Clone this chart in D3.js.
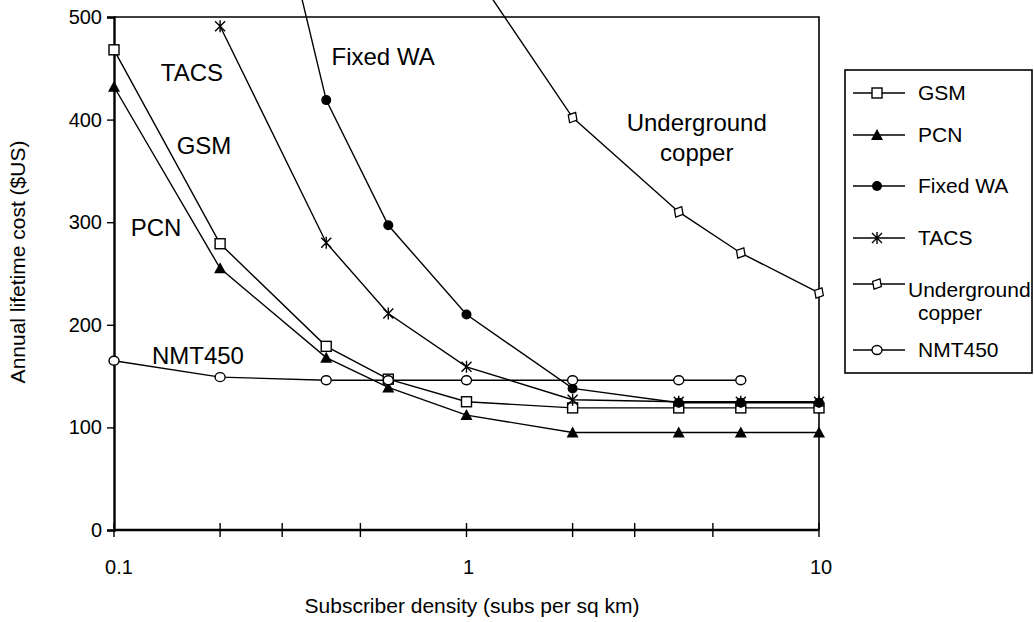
<!DOCTYPE html>
<html>
<head>
<meta charset="utf-8">
<script src="https://cdn.jsdelivr.net/npm/d3@7"></script>
<style>
  body { margin: 0; background: #fff; }
  text { font-family: "Liberation Sans", Arial, sans-serif; fill: #000; }
</style>
</head>
<body>
<div class="chart"></div>
<script>
// subscriber density (subs per sq km)
var densities = [0.1, 0.2, 0.4, 0.6, 1, 2, 4, 6, 10];
// annual lifetime cost ($US), null = not plotted
var gsm    = [468, 279, 179, 147, 125, 119, 119, 119, 119];
var pcn    = [432, 255, 168, 139, 112, 95, 95, 95, 95];
var fixedWA = [null, 850, 419, 297, 210, 138, 124, 124, 124];
var tacs   = [null, 491, 280, 211, 159, 127, 125, 125, 125];
var copper = [null, null, null, null, 555, 402, 310, 270, 231];
var nmt450 = [165, 149, 146, 146, 146, 146, 146, 146, null];

var seriesNames = ['GSM', 'PCN', 'Fixed WA', 'TACS', 'Underground copper', 'NMT450'];
var xTicks = [0.1, 0.2, 0.3, 0.5, 1, 2, 3, 5, 10];
var xLabels = [0.1, 1, 10];
var yTicks = [0, 100, 200, 300, 400, 500];

var series = [
  { name: 'GSM', values: gsm, marker: 'square' },
  { name: 'PCN', values: pcn, marker: 'triangle' },
  { name: 'Fixed WA', values: fixedWA, marker: 'dot' },
  { name: 'TACS', values: tacs, marker: 'star' },
  { name: 'Underground copper', values: copper, marker: 'diamond' },
  { name: 'NMT450', values: nmt450, marker: 'circle' }
];

var width = 1034, height = 622;
var svg = d3.select('.chart')
    .append('svg')
    .attr('width', width)
    .attr('height', height);

var x = d3.scaleLog().domain([0.1, 10]).range([114, 819]);
var y = d3.scaleLinear().domain([0, 500]).range([530, 17]);

// frame (top + right thinner)
svg.append('path')
    .attr('d', `M${x(0.1)},${y(500)}H${x(10)}V${y(0)}`)
    .attr('fill', 'none')
    .attr('stroke', '#000')
    .attr('stroke-width', 1.6);

// y axis
var yAxis = d3.axisLeft(y).tickValues(yTicks).tickSize(7).tickPadding(5);
var gy = svg.append('g')
    .attr('transform', `translate(${x(0.1)},0)`)
    .call(yAxis);
gy.select('.domain').attr('stroke-width', 2.4);
gy.selectAll('.tick line').attr('stroke-width', 1.4);
gy.selectAll('.tick text').style('font-size', '20px').attr('fill', '#000');

// x axis: ticks cross the axis line
var gx = svg.append('g');
gx.append('line')
    .attr('x1', x(0.1)).attr('x2', x(10))
    .attr('y1', y(0)).attr('y2', y(0))
    .attr('stroke', '#000').attr('stroke-width', 2.4);
gx.selectAll('.xt')
    .data(xTicks)
    .enter().append('line')
    .attr('class', 'xt')
    .attr('x1', d => x(d)).attr('x2', d => x(d))
    .attr('y1', y(0) - 7).attr('y2', y(0) + 7)
    .attr('stroke', '#000').attr('stroke-width', 1.4);
gx.selectAll('.xl')
    .data(xLabels)
    .enter().append('text')
    .attr('class', 'xl')
    .attr('x', d => x(d) + (d === 0.1 ? 5 : 2))
    .attr('y', 574)
    .attr('text-anchor', 'middle')
    .style('font-size', '20px')
    .text(d => d);

// axis titles
svg.append('text')
    .attr('transform', `translate(25,262) rotate(-90)`)
    .attr('text-anchor', 'middle')
    .style('font-size', '21px')
    .text('Annual lifetime cost ($US)');
svg.append('text')
    .attr('x', 472)
    .attr('y', 613)
    .attr('text-anchor', 'middle')
    .style('font-size', '21px')
    .text('Subscriber density (subs per sq km)');

// markers
function drawMarker(g, type) {
  if (type === 'square') {
    g.append('rect').attr('x', -5).attr('y', -5).attr('width', 10).attr('height', 10)
      .attr('fill', '#fff').attr('stroke', '#000').attr('stroke-width', 1.4);
  } else if (type === 'triangle') {
    g.append('path').attr('d', 'M0,-6L6,5H-6Z').attr('fill', '#000');
  } else if (type === 'dot') {
    g.append('circle').attr('r', 5).attr('fill', '#000');
  } else if (type === 'star') {
    g.append('path').attr('d', 'M0,-6V6M-5,-5L5,5M5,-5L-5,5')
      .attr('stroke', '#000').attr('stroke-width', 1.4).attr('fill', 'none');
  } else if (type === 'diamond') {
    g.append('path').attr('d', 'M0,-6L5,0L0,6L-5,0Z')
      .attr('transform', 'rotate(30)')
      .attr('fill', '#fff').attr('stroke', '#000').attr('stroke-width', 1.3);
  } else if (type === 'circle') {
    g.append('ellipse').attr('rx', 5).attr('ry', 4.5)
      .attr('fill', '#fff').attr('stroke', '#000').attr('stroke-width', 1.4);
  }
}

var line = d3.line()
    .defined(d => d.v != null)
    .x(d => x(d.x))
    .y(d => y(d.v));

series.forEach(function (s) {
  var pts = densities.map((d, i) => ({ x: d, v: s.values[i] }));
  svg.append('path')
      .datum(pts)
      .attr('d', line)
      .attr('fill', 'none')
      .attr('stroke', '#000')
      .attr('stroke-width', 1.4);
});
series.forEach(function (s) {
  var pts = densities.map((d, i) => ({ x: d, v: s.values[i] }))
      .filter(d => d.v != null && d.v <= 500);
  svg.selectAll(null)
      .data(pts)
      .enter().append('g')
      .attr('transform', d => `translate(${x(d.x)},${y(d.v)})`)
      .each(function () { drawMarker(d3.select(this), s.marker); });
});

// in-plot labels
var notes = [
  { t: 'TACS', x: 0.1664, v: 446 },
  { t: 'GSM', x: 0.18, v: 375 },
  { t: 'PCN', x: 0.1316, v: 295 },
  { t: 'NMT450', x: 0.173, v: 170 },
  { t: 'Fixed WA', x: 0.58, v: 461 },
  { t: 'Underground', x: 4.5, v: 397 },
  { t: 'copper', x: 4.5, v: 368 }
];
svg.selectAll('.note')
    .data(notes)
    .enter().append('text')
    .attr('class', 'note')
    .attr('x', d => x(d.x))
    .attr('y', d => y(d.v))
    .attr('text-anchor', 'middle')
    .attr('dy', '0.35em')
    .style('font-size', '24px')
    .text(d => d.t);

// legend
var legend = svg.append('g');
legend.append('rect')
    .attr('x', 845).attr('y', 70).attr('width', 187).attr('height', 303)
    .attr('fill', '#fff').attr('stroke', '#000').attr('stroke-width', 1.6);
var legY = [93, 135, 186, 238, 284, 350];
series.forEach(function (s, i) {
  var g = legend.append('g').attr('transform', `translate(0,${legY[i]})`);
  g.append('line').attr('x1', 853).attr('x2', 905).attr('y1', 0).attr('y2', 0)
    .attr('stroke', '#000').attr('stroke-width', 1.4);
  drawMarker(g.append('g').attr('transform', 'translate(877,0)'), s.marker);
  var words = seriesNames[i] === 'Underground copper' ? ['Underground', 'copper'] : [seriesNames[i]];
  words.forEach(function (w, j) {
    g.append('text')
      .attr('x', j === 0 && words.length > 1 ? 908 : 918)
      .attr('y', j * 23 + (words.length > 1 ? 6 : 0))
      .attr('dy', '0.35em')
      .style('font-size', '21px')
      .text(w);
  });
});
</script>
</body>
</html>
